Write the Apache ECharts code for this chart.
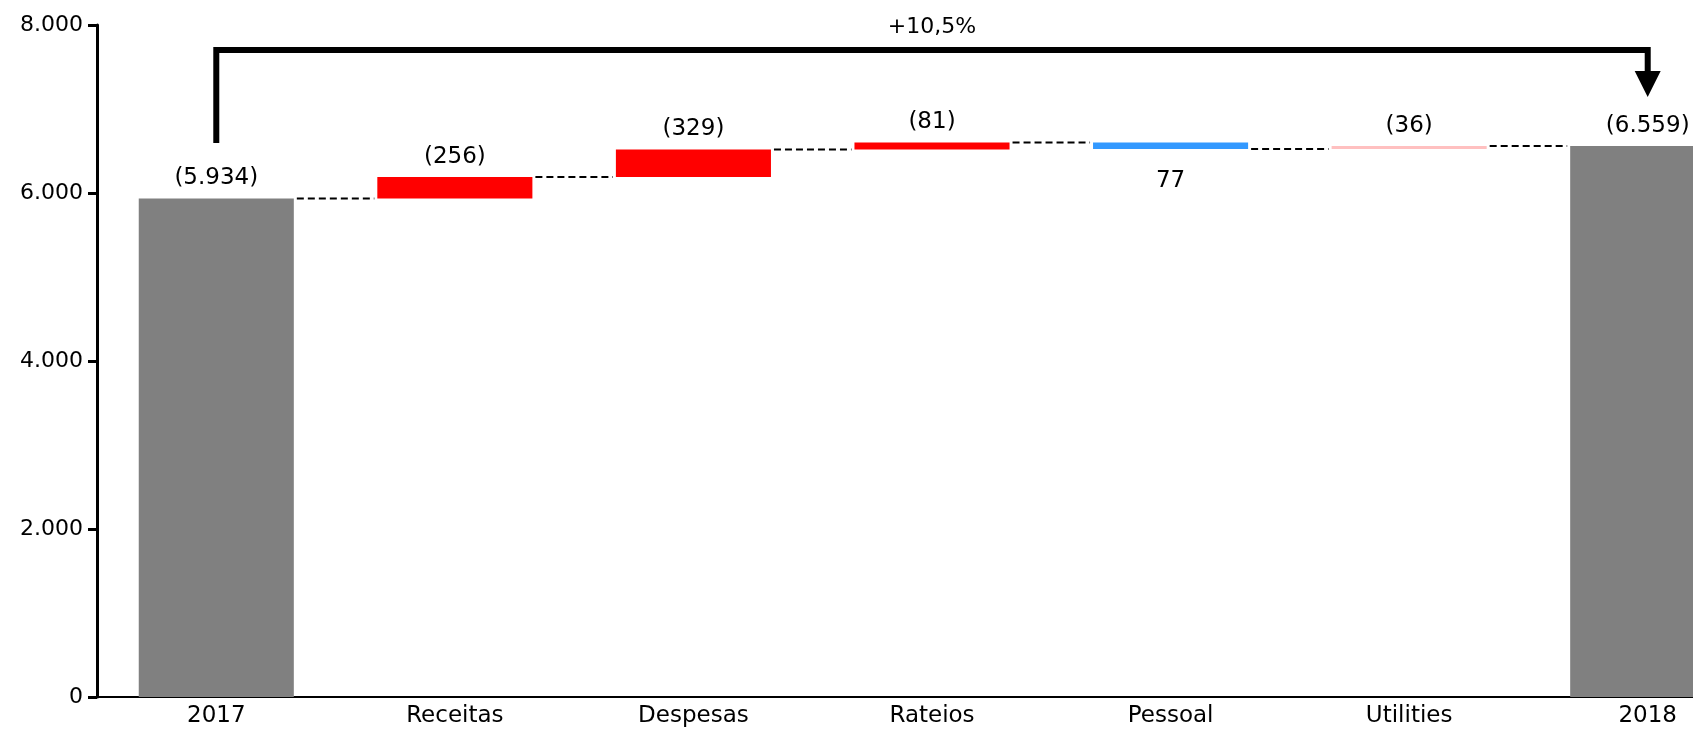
<!DOCTYPE html>
<html>
<head>
<meta charset="utf-8">
<script src="https://cdn.jsdelivr.net/npm/echarts@6/dist/echarts.min.js"></script>
<style>html,body{margin:0;padding:0;background:#fff;overflow:hidden;width:1693px;height:731px}#container{width:1767px;height:731px}</style>
</head>
<body>
<div id="container"></div>
<script>
var categories = ['2017', 'Receitas', 'Despesas', 'Rateios', 'Pessoal', 'Utilities', '2018'];
var changes = [5934, 256, 329, 81, -77, 36, 6559];
var isTotal = [true, false, false, false, false, false, true];
var labelsText = ['(5.934)', '(256)', '(329)', '(81)', '77', '(36)', '(6.559)'];
var barColors = ['#808080', '#ff0000', '#ff0000', '#ff0000', '#3399ff', '#ffc0c0', '#808080'];
var bracketLevels = [6595, 7702, 7143]; // left leg bottom, top line, arrow tip
var bracketText = '+10,5%';

var dom = document.getElementById('container');
var myChart = echarts.init(dom);
var FONT = 'DejaVu Sans';

// build waterfall pieces
var base = [], height = [], ends = [];
var running = 0;
for (var i = 0; i < changes.length; i++) {
    if (isTotal[i]) {
        base.push(0); height.push(changes[i]); running = changes[i];
    } else {
        var next = running + changes[i];
        base.push(Math.min(running, next));
        height.push(Math.abs(changes[i]));
        running = next;
    }
    ends.push(running);
}
var connectors = [];
for (var i = 0; i < categories.length - 1; i++) connectors.push([i, ends[i]]);

var visibleData = height.map(function (h, i) {
    var below = changes[i] < 0;
    return {
        value: h,
        itemStyle: {color: barColors[i]},
        label: {
            show: true,
            position: below ? 'bottom' : 'top',
            distance: below ? 20 : 9,
            formatter: labelsText[i],
            fontFamily: FONT, fontSize: 23, color: '#000'
        }
    };
});

var option = {
    animation: false,
    grid: {left: 97, top: 25, right: 0, bottom: 34, containLabel: false},
    xAxis: {
        type: 'category',
        data: categories,
        axisLine: {lineStyle: {color: '#000', width: 2}},
        axisTick: {show: false},
        axisLabel: {fontFamily: FONT, fontSize: 23, color: '#000', margin: 8}
    },
    yAxis: {
        type: 'value', min: 0, max: 8000, interval: 2000,
        splitLine: {show: false},
        axisLine: {show: true, lineStyle: {color: '#000', width: 3}},
        axisTick: {show: true, length: 9, lineStyle: {color: '#000', width: 3}},
        axisLabel: {
            fontFamily: FONT, fontSize: 22, color: '#000', margin: 14,
            formatter: function (v) { return v === 0 ? '0' : (v / 1000).toFixed(3); }
        }
    },
    series: [
        {type: 'bar', stack: 'w', data: base, itemStyle: {color: 'transparent'}, barWidth: '65%', silent: true},
        {type: 'bar', stack: 'w', data: visibleData, barWidth: '65%'},
        {
            type: 'custom',
            data: connectors,
            renderItem: function (params, api) {
                var idx = api.value(0);
                var p1 = api.coord([idx, api.value(1)]);
                var p2 = api.coord([idx + 1, api.value(1)]);
                var bw = api.size([1, 0])[0] * 0.65 / 2;
                return {
                    type: 'line',
                    shape: {x1: p1[0] + bw + 3, y1: p1[1], x2: p2[0] - bw - 3, y2: p2[1]},
                    style: {stroke: '#000', lineWidth: 2, lineDash: [7, 4]}
                };
            },
            z: 5
        },
        {
            type: 'custom',
            data: [[0, bracketLevels[0]]],
            renderItem: function (params, api) {
                var a = api.coord([0, bracketLevels[0]]);
                var t = api.coord([0, bracketLevels[1]]);
                var b = api.coord([categories.length - 1, bracketLevels[2]]);
                var headH = 26, headW = 13;
                return {
                    type: 'group',
                    children: [
                        {type: 'polyline', shape: {points: [[a[0], a[1]], [a[0], t[1]], [b[0], t[1]], [b[0], b[1] - headH]]},
                         style: {stroke: '#000', lineWidth: 6, fill: null}},
                        {type: 'polygon', shape: {points: [[b[0] - headW, b[1] - headH], [b[0] + headW, b[1] - headH], [b[0], b[1]]]},
                         style: {fill: '#000'}},
                        {type: 'text', x: (a[0] + b[0]) / 2, y: t[1] - 12,
                         style: {text: bracketText, fontFamily: FONT, fontSize: 22, fill: '#000', align: 'center', verticalAlign: 'bottom'}}
                    ]
                };
            },
            z: 6
        }
    ]
};
myChart.setOption(option);
</script>
</body>
</html>
